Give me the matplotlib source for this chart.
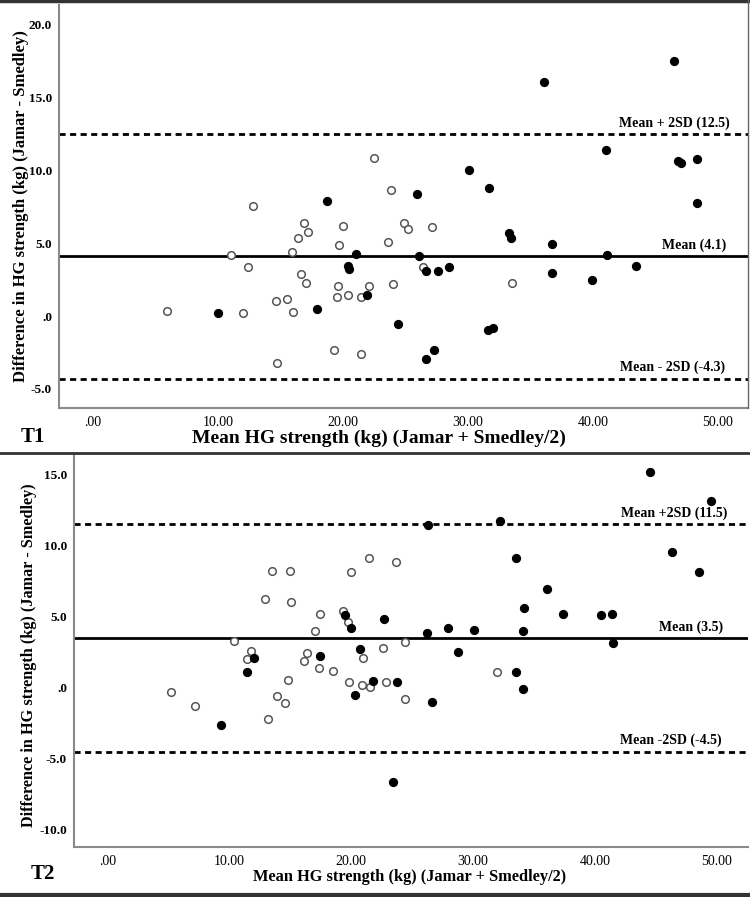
import numpy as np
from matplotlib import pyplot as plt
from matplotlib.lines import Line2D

# Bland-Altman plots, T1 and T2 (Jamar vs Smedley)

# T1 data
t1_open_x = [5.9, 11.0, 12.0, 12.4, 12.8, 14.6, 14.7, 15.5, 15.9, 16.0, 16.4, 16.6, 16.9, 17.0, 17.2,
             19.3, 19.5, 19.6, 19.7, 20.0, 20.4, 21.4, 21.4, 22.1, 22.5, 23.8, 23.6, 24.9, 25.2, 27.1,
             26.4, 24.0, 33.5]
t1_open_y = [0.37, 4.16, 0.18, 3.36, 7.59, 1.06, -3.22, 1.17, 4.39, 0.25, 5.38, 2.87, 6.37, 2.28, 5.79,
             -2.34, 1.29, 2.07, 4.9, 6.16, 1.47, -2.64, 1.29, 2.07, 10.87, 8.69, 5.08, 6.41, 6.0, 6.09,
             3.4, 2.18, 2.28]
t1_fill_x = [10.0, 17.9, 18.7, 20.4, 20.45, 21.0, 21.9, 25.9, 26.05, 26.6, 27.6, 28.5, 24.4, 26.6, 27.3,
             30.1, 31.7, 31.6, 32.0, 33.3, 33.4, 36.1, 36.7, 36.7, 39.9, 41.0, 41.1, 43.4, 46.45, 46.8,
             47.0, 48.3, 48.3]
t1_fill_y = [0.18, 0.46, 7.88, 3.45, 3.2, 4.25, 1.47, 8.39, 4.09, 3.06, 3.06, 3.38, -0.53, -2.92, -2.34,
             10.0, 8.78, -0.94, -0.85, 5.7, 5.38, 16.1, 4.97, 2.97, 2.46, 11.38, 4.18, 3.47, 17.5, 10.67,
             10.48, 10.78, 7.79]
t1_lines = [12.5, 4.1, -4.3]
t1_labels = ["Mean + 2SD (12.5)", "Mean (4.1)", "Mean - 2SD (-4.3)"]

# T2 data
t2_open_x = [5.2, 7.2, 10.4, 11.8, 11.5, 12.9, 13.2, 13.5, 13.9, 14.6, 14.8, 15.0, 15.1, 16.1, 16.4,
             17.0, 17.4, 17.45, 18.5, 19.3, 19.75, 19.8, 20.0, 21.0, 20.9, 21.5, 21.55, 23.7, 22.6, 24.45,
             22.9, 24.45, 32.0]
t2_open_y = [-0.3, -1.29, 3.31, 2.61, 2.0, 6.22, -2.18, 8.22, -0.61, -1.1, 0.52, 8.22, 6.04, 1.9, 2.42,
             4.01, 1.41, 5.21, 1.2, 5.42, 4.63, 0.4, 8.12, 2.12, 0.19, 9.11, 0.03, 8.83, 2.82, 3.22,
             0.42, -0.8, 1.13]
t2_fill_x = [9.35, 11.5, 12.0, 17.45, 19.5, 19.97, 20.3, 20.7, 21.8, 26.3, 22.7, 23.8, 23.4, 26.2, 26.6,
             27.95, 28.8, 30.1, 32.2, 33.5, 33.5, 34.1, 34.2, 34.1, 36.1, 37.4, 40.5, 41.4, 41.5, 44.5,
             49.5, 46.3, 48.5]
t2_fill_y = [-2.6, 1.1, 2.09, 2.21, 5.12, 4.2, -0.49, 2.7, 0.5, 11.43, 4.81, 0.42, -6.62, 3.83, -1.01,
             4.23, 2.51, 4.04, 11.74, 9.11, 1.13, 4.01, 5.61, -0.09, 6.93, 5.21, 5.12, 5.21, 3.12, 15.17,
             13.15, 9.53, 8.12]
t2_lines = [11.5, 3.5, -4.5]
t2_labels = ["Mean +2SD (11.5)", "Mean (3.5)", "Mean -2SD (-4.5)"]

x_ticks = [0, 10, 20, 30, 40, 50]
x_ticklabels = [".00", "10.00", "20.00", "30.00", "40.00", "50.00"]
t1_yticks = [-5, 0, 5, 10, 15, 20]
t1_yticklabels = ["-5.0", ".0", "5.0", "10.0", "15.0", "20.0"]
t2_yticks = [-10, -5, 0, 5, 10, 15]
t2_yticklabels = ["-10.0", "-5.0", ".0", "5.0", "10.0", "15.0"]

plt.rcParams['font.family'] = ['Liberation Serif', 'DejaVu Serif']

W, H = 750, 897
fig = plt.figure(figsize=(W / 100, H / 100), dpi=100)


def px_axes(left, top, right, bottom):
    # axes from pixel box
    return fig.add_axes([left / W, 1 - bottom / H, (right - left) / W, (bottom - top) / H])


def draw_panel(ax, ox, oy, fx, fy, lines, labels, yticks, yticklabels, label_x):
    ax.scatter(ox, oy, s=30, facecolors='white', edgecolors='#555555', linewidths=1.1, zorder=3)
    ax.scatter(fx, fy, s=32, color='black', zorder=4)
    for i, v in enumerate(lines):
        if i == 1:
            ax.axhline(v, color='black', lw=2.0, zorder=2)
        else:
            ax.axhline(v, color='black', lw=2.0, ls=(0, (2.2, 1.6)), zorder=2)
        ax.annotate(labels[i], xy=(label_x[i], v), xytext=(0, 3), textcoords='offset points',
                    ha='right', va='bottom', fontsize=10, fontweight='bold')
    ax.set_xticks(x_ticks)
    ax.set_xticklabels(x_ticklabels, fontsize=10)
    ax.set_yticks(yticks)
    ax.set_yticklabels(yticklabels, fontsize=9.5, fontweight='bold')
    ax.tick_params(axis='x', length=0, pad=6)
    ax.tick_params(axis='y', length=0, pad=5)
    for s in ['top', 'right']:
        ax.spines[s].set_visible(False)
    for s in ['left', 'bottom']:
        ax.spines[s].set_color('#8a8a8a')
        ax.spines[s].set_linewidth(1.5)


# T1
ax1 = px_axes(59, 5, 748, 408)
draw_panel(ax1, t1_open_x, t1_open_y, t1_fill_x, t1_fill_y, t1_lines, t1_labels,
           t1_yticks, t1_yticklabels, [50.96, 50.7, 50.56])
ax1.set_xlim(-2.72, 52.4)
ax1.set_ylim(-6.32, 21.37)

# T2
ax2 = px_axes(74, 454, 748, 847)
draw_panel(ax2, t2_open_x, t2_open_y, t2_fill_x, t2_fill_y, t2_lines, t2_labels,
           t2_yticks, t2_yticklabels, [50.84, 50.5, 50.4])
ax2.set_xlim(-2.73, 52.56)
ax2.set_ylim(-11.22, 16.46)

# axis titles
fig.text(379 / W, 1 - 438 / H, "Mean HG strength (kg) (Jamar + Smedley/2)", ha='center', va='center',
         fontsize=14, fontweight='bold')
fig.text(21 / W, 1 - 206 / H, "Difference in HG strength (kg) (Jamar - Smedley)", ha='center', va='center',
         rotation=90, fontsize=12, fontweight='bold')
fig.text(410 / W, 1 - 877 / H, "Mean HG strength (kg) (Jamar + Smedley/2)", ha='center', va='center',
         fontsize=11.8, fontweight='bold')
fig.text(29 / W, 1 - 655 / H, "Difference in HG strength (kg) (Jamar - Smedley)", ha='center', va='center',
         rotation=90, fontsize=11.7, fontweight='bold')
fig.text(33 / W, 1 - 437 / H, "T1", ha='center', va='center', fontsize=15, fontweight='bold')
fig.text(43 / W, 1 - 874 / H, "T2", ha='center', va='center', fontsize=15, fontweight='bold')

# frame lines
for y, lw in [(1, 2.5), (453, 2.0), (895, 3.0)]:
    fig.add_artist(Line2D([0, 1], [1 - y / H, 1 - y / H], color='#333333', lw=lw))
fig.add_artist(Line2D([748 / W, 748 / W], [1 - 408 / H, 1], color='#666666', lw=1.0))

fig.savefig("out.png", dpi=100)
